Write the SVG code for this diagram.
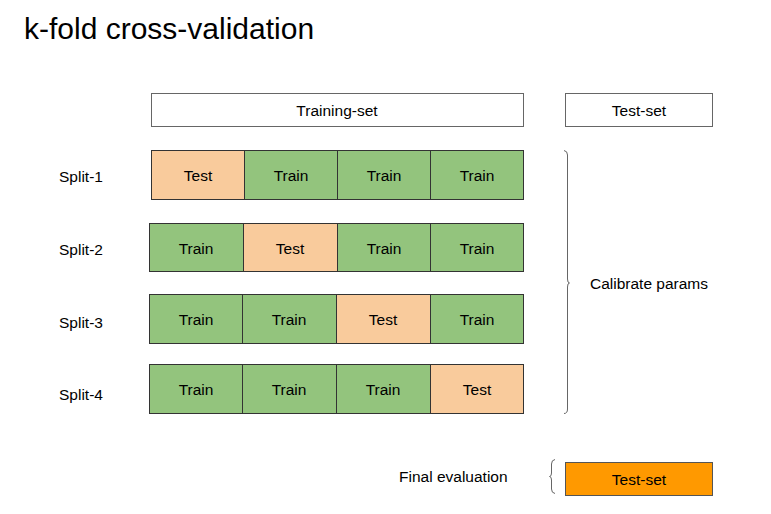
<svg xmlns="http://www.w3.org/2000/svg" width="771" height="514" viewBox="0 0 771 514">
<style>
text{font-family:"Liberation Sans",Arial,sans-serif;fill:#000;font-size:15.5px}
.c{text-anchor:middle}
.title{font-size:30px}
.box{fill:#fff;stroke:#666;stroke-width:1}
.tr{fill:#93c47d;stroke:#333;stroke-width:1}
.te{fill:#f9cb9c;stroke:#333;stroke-width:1}
.fin{fill:#ff9900;stroke:#555;stroke-width:1}
.brace{fill:none;stroke:#666;stroke-width:1}
</style>
<rect width="771" height="514" fill="#fff"/>
<text class="title" x="24" y="39">k-fold cross-validation</text>

<g id="training-set"><rect class="box" x="151.5" y="93.5" width="372" height="33"/><text class="c" x="337" y="116">Training-set</text></g>
<g id="test-set"><rect class="box" x="565.5" y="93.5" width="147" height="33"/><text class="c" x="639" y="116">Test-set</text></g>

<g id="split-1">
<text x="59" y="182">Split-1</text>
<rect class="te" x="151.5" y="150.5" width="93" height="49"/><text class="c" x="198" y="181">Test</text>
<rect class="tr" x="244.5" y="150.5" width="93" height="49"/><text class="c" x="291" y="181">Train</text>
<rect class="tr" x="337.5" y="150.5" width="93" height="49"/><text class="c" x="384" y="181">Train</text>
<rect class="tr" x="430.5" y="150.5" width="93" height="49"/><text class="c" x="477" y="181">Train</text>
</g>
<g id="split-2">
<text x="59" y="254.5">Split-2</text>
<rect class="tr" x="149.5" y="223.5" width="94" height="48"/><text class="c" x="196" y="253.5">Train</text>
<rect class="te" x="243.5" y="223.5" width="94" height="48"/><text class="c" x="290" y="253.5">Test</text>
<rect class="tr" x="337.5" y="223.5" width="93" height="48"/><text class="c" x="384" y="253.5">Train</text>
<rect class="tr" x="430.5" y="223.5" width="93" height="48"/><text class="c" x="477" y="253.5">Train</text>
</g>
<g id="split-3">
<text x="59" y="327.5">Split-3</text>
<rect class="tr" x="149.5" y="294.5" width="93" height="49"/><text class="c" x="196" y="325">Train</text>
<rect class="tr" x="242.5" y="294.5" width="94" height="49"/><text class="c" x="289" y="325">Train</text>
<rect class="te" x="336.5" y="294.5" width="94" height="49"/><text class="c" x="383" y="325">Test</text>
<rect class="tr" x="430.5" y="294.5" width="93" height="49"/><text class="c" x="477" y="325">Train</text>
</g>
<g id="split-4">
<text x="59" y="400">Split-4</text>
<rect class="tr" x="149.5" y="364.5" width="93" height="49"/><text class="c" x="196" y="395">Train</text>
<rect class="tr" x="242.5" y="364.5" width="94" height="49"/><text class="c" x="289" y="395">Train</text>
<rect class="tr" x="336.5" y="364.5" width="94" height="49"/><text class="c" x="383" y="395">Train</text>
<rect class="te" x="430.5" y="364.5" width="93" height="49"/><text class="c" x="477" y="395">Test</text>
</g>

<g id="connectors">
<path class="brace" d="M564,150.5 Q567.5,151 567.5,155 L567.5,279 Q567.5,283 569.5,283 Q567.5,283 567.5,287 L567.5,409 Q567.5,413.5 564,413.5"/>
<path class="brace" d="M555,459.5 Q551.5,460 551.5,464 L551.5,473 Q551.5,476.5 549.5,476.5 Q551.5,476.5 551.5,480 L551.5,489 Q551.5,493 555,493.5"/>
</g>

<g id="calibrate"><text x="590" y="288.5">Calibrate params</text></g>
<g id="final-evaluation"><text x="399" y="482">Final evaluation</text></g>
<g id="final-test-set"><rect class="fin" x="565.5" y="462.5" width="147" height="33"/><text class="c" x="639" y="485">Test-set</text></g>
</svg>
